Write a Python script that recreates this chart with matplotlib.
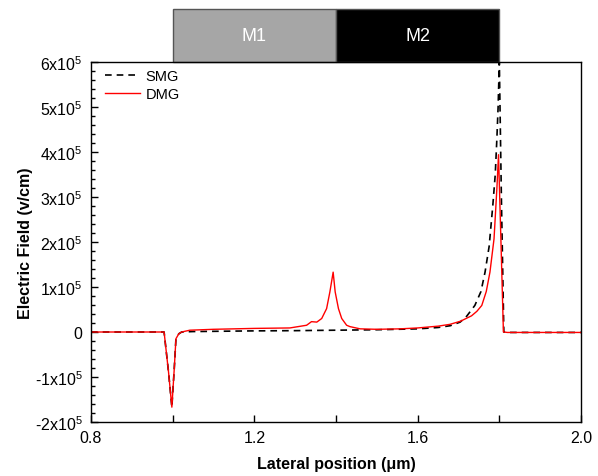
import matplotlib
matplotlib.use("Agg")
import matplotlib.pyplot as plt
from matplotlib.patches import Rectangle
from matplotlib.ticker import MultipleLocator, FuncFormatter
import matplotlib.transforms as mtransforms

plt.rcParams['font.family'] = ['Liberation Sans', 'DejaVu Sans']
plt.rcParams['mathtext.fontset'] = 'custom'
plt.rcParams['mathtext.rm'] = 'Liberation Sans'
plt.rcParams['mathtext.it'] = 'Liberation Sans:italic'
plt.rcParams['mathtext.bf'] = 'Liberation Sans:bold'

# ---- data (field in units of 1e5 V/cm) ----
smg_x = [0.80, 0.979, 0.990, 0.998, 1.004, 1.008, 1.015, 1.022, 1.05, 1.10, 1.20,
         1.30, 1.40, 1.50, 1.60, 1.65, 1.68, 1.704, 1.72, 1.74, 1.755, 1.765,
         1.775, 1.784, 1.790, 1.794, 1.797, 1.800, 1.805, 1.811, 1.82, 2.00]
smg_y = [0.0, 0.0, -0.9, -1.67, -0.8, -0.15, -0.04, 0.0, 0.01, 0.015, 0.025,
         0.03, 0.04, 0.05, 0.07, 0.10, 0.14, 0.22, 0.35, 0.59, 0.90, 1.33,
         1.90, 2.81, 3.50, 4.30, 5.00, 6.00, 3.00, 0.0, -0.01, -0.01]

dmg_x = [0.80, 0.979, 0.990, 0.998, 1.004, 1.008, 1.015, 1.022, 1.042, 1.10, 1.20,
         1.287, 1.328, 1.340, 1.353, 1.365, 1.377, 1.385, 1.393, 1.398, 1.406,
         1.414, 1.426, 1.434, 1.459, 1.50, 1.557, 1.60, 1.65, 1.679, 1.705,
         1.732, 1.745, 1.757, 1.768, 1.777, 1.787, 1.794, 1.798, 1.804, 1.810,
         1.82, 2.00]
dmg_y = [0.0, 0.0, -0.9, -1.67, -0.8, -0.15, -0.04, 0.0, 0.04, 0.06, 0.08,
         0.09, 0.15, 0.23, 0.22, 0.30, 0.52, 0.89, 1.33, 0.89, 0.52,
         0.30, 0.15, 0.12, 0.07, 0.06, 0.07, 0.09, 0.13, 0.17, 0.24,
         0.36, 0.46, 0.59, 0.90, 1.33, 2.07, 3.19, 3.94, 2.00, 0.0,
         -0.01, -0.01]

gate_names = ["M1", "M2"]
gate_starts = [1.0, 1.4]
gate_ends = [1.4, 1.8]
gate_colors = ["#a6a6a6", "#000000"]

scale = 1e5

fig = plt.figure(figsize=(5.98, 4.77), dpi=100)
ax = fig.add_axes([91/598, 1 - 423/477, 490/598, 360/477])

ax.plot(smg_x, [v * scale for v in smg_y], color='black', linestyle=(0, (4, 3)),
        linewidth=1.2, label='SMG')
ax.plot(dmg_x, [v * scale for v in dmg_y], color='red', linestyle='-',
        linewidth=1.0, label='DMG')

ax.set_xlim(0.8, 2.0)
ax.set_ylim(-2e5, 6e5)

ax.xaxis.set_major_locator(MultipleLocator(0.4))
ax.xaxis.set_minor_locator(MultipleLocator(0.2))
ax.yaxis.set_major_locator(MultipleLocator(1e5))
ax.yaxis.set_minor_locator(MultipleLocator(0.2e5))

def yfmt(v, pos):
    n = int(round(v / 1e5))
    if n == 0:
        return "0"
    return r"%dx10$^{5}$" % n
ax.yaxis.set_major_formatter(FuncFormatter(yfmt))
ax.xaxis.set_major_formatter(FuncFormatter(lambda v, p: "%.1f" % v))

ax.tick_params(which='both', direction='in', top=False, right=False,
               labelsize=11.5, pad=6)
ax.tick_params(which='major', length=5, width=1)
ax.tick_params(which='minor', length=3, width=1)
ax.tick_params(axis='x', which='minor', length=5)
for s in ax.spines.values():
    s.set_linewidth(1.0)

ax.set_xlabel("Lateral position (μm)", fontsize=11.5, fontweight='bold', labelpad=8)
ax.set_ylabel("Electric Field (v/cm)", fontsize=11.5, fontweight='bold', labelpad=1)

leg = ax.legend(loc='upper left', frameon=False, fontsize=10.5,
                handlelength=2.4, handletextpad=0.4, labelspacing=0.3,
                borderaxespad=0.2, bbox_to_anchor=(0.01, 1.005))

trans = mtransforms.blended_transform_factory(ax.transData, ax.transAxes)
bar_h = 53 / 360
for name, x0, x1, c in zip(gate_names, gate_starts, gate_ends, gate_colors):
    r = Rectangle((x0, 1.0), x1 - x0, bar_h, transform=trans, facecolor=c,
                  edgecolor='#555555', linewidth=1.0, clip_on=False)
    ax.add_patch(r)
    ax.text((x0 + x1) / 2, 1.0 + bar_h / 2, name, transform=trans, color='white',
            ha='center', va='center', fontsize=13)

fig.savefig("out.png", dpi=100)
